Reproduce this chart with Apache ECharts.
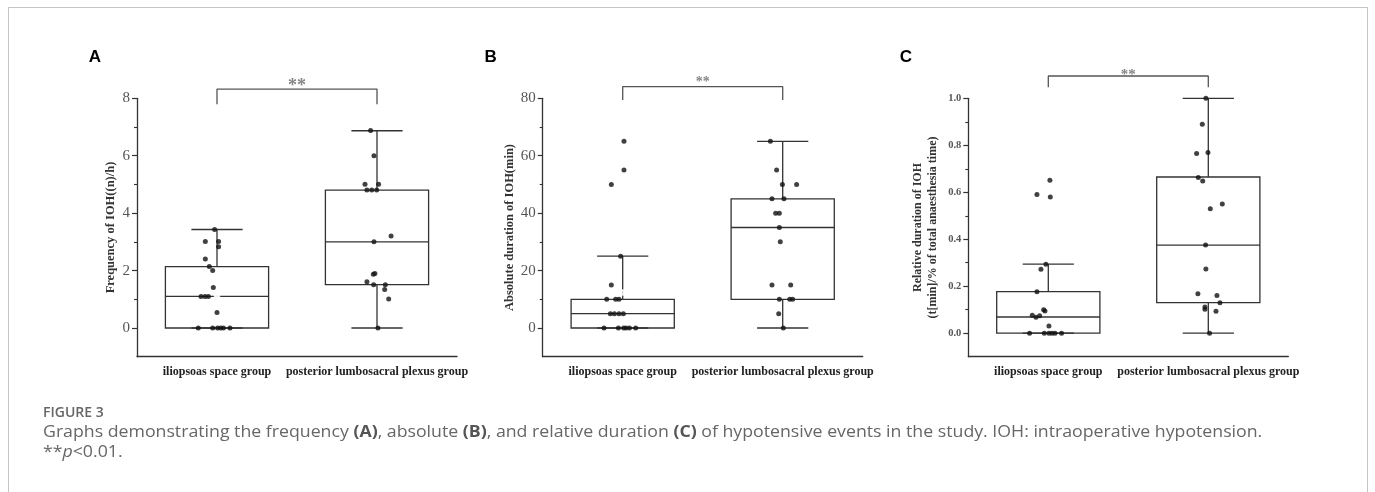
<!DOCTYPE html>
<html>
<head>
<meta charset="utf-8">
<script src="https://cdn.jsdelivr.net/npm/echarts@6/dist/echarts.min.js"></script>
<style>
  html, body { margin: 0; padding: 0; background: #fff; }
  #wrap { position: relative; width: 1375px; height: 492px; overflow: hidden; }
  #frame { position: absolute; left: 8px; top: 7px; width: 1360px; height: 520px; border: 1px solid #c4c4c4; box-sizing: border-box; }
  #chart { position: absolute; left: 0; top: 0; width: 1375px; height: 492px; }
</style>
</head>
<body>
<div id="wrap"><div id="frame"></div><div id="chart"></div></div>
<script>
// ---------- data ----------
const categories = ['iliopsoas space group', 'posterior lumbosacral plexus group'];

// Panel A: frequency of IOH
const aTicks = [0, 2, 4, 6, 8];
const aMinorTicks = [1, 3, 5, 7];
const aRange = [-1, 8];
const aBoxes = [[0, 0, 1.1, 2.14, 3.43], [0, 1.51, 3.0, 4.8, 6.87]]; // min, q1, median, q3, max
const aMeans = [1.15, 3.19];
const aG1Values = [3.43, 3.01, 3.01, 2.83, 2.40, 2.14, 2.00, 1.41, 1.10, 1.10, 1.10, 0.54, 0, 0, 0, 0, 0, 0];
const aG1Jitter = [-0.015, -0.073, 0.010, 0.010, -0.073, -0.048, -0.027, -0.023, -0.100, -0.075, -0.054, 0, -0.117, -0.027, 0.004, 0.023, 0.040, 0.081];
const aG2Values = [6.88, 6.00, 5.01, 5.01, 4.81, 4.81, 4.81, 3.20, 3.00, 1.90, 1.87, 1.61, 1.51, 1.51, 1.34, 1.01, 0];
const aG2Jitter = [-0.040, -0.019, -0.075, 0.010, -0.063, -0.033, -0.002, 0.088, -0.019, -0.013, -0.023, -0.063, -0.021, 0.052, 0.048, 0.073, 0.006];
const aBracket = [7.79, 8.32];
const aStar = 8.52;

// Panel B: absolute duration
const bTicks = [0, 20, 40, 60, 80];
const bMinorTicks = [10, 30, 50, 70];
const bRange = [-10, 80];
const bBoxes = [[0, 0, 5, 10, 25], [0, 10, 35, 45, 65]];
const bMeans = [12.4, 30.7];
const bG1Values = [65, 55, 50, 25, 15, 10, 10, 10, 5, 5, 5, 5, 0, 0, 0, 0, 0, 0];
const bG1Jitter = [0.008, 0.008, -0.071, -0.013, -0.071, -0.100, -0.044, -0.023, -0.077, -0.052, -0.023, 0.004, -0.117, -0.027, 0.006, 0.021, 0.042, 0.081];
const bG2Values = [65, 55, 50, 50, 45, 45, 40, 40, 35, 30, 15, 15, 10, 10, 10, 5, 0];
const bG2Jitter = [-0.077, -0.038, -0.002, 0.087, -0.067, 0.008, -0.044, -0.021, -0.021, -0.015, -0.067, 0.050, -0.021, 0.044, 0.062, -0.025, 0.004];
const bBracket = [79.4, 84.1];
const bStar = 86.6;

// Panel C: relative duration
const cTicks = [0, 0.2, 0.4, 0.6, 0.8, 1.0];
const cMinorTicks = [0.1, 0.3, 0.5, 0.7, 0.9];
const cRange = [-0.1, 1.0];
const cBoxes = [[0, 0, 0.069, 0.177, 0.294], [0, 0.130, 0.375, 0.665, 1.0]];
const cMeans = [0.143, 0.426];
const cG1Values = [0.651, 0.590, 0.580, 0.294, 0.272, 0.177, 0.100, 0.095, 0.076, 0.074, 0.068, 0.031, 0, 0, 0, 0, 0, 0];
const cG1Jitter = [0.010, -0.071, 0.0125, -0.015, -0.046, -0.071, -0.029, -0.021, -0.100, -0.054, -0.077, 0.004, -0.117, -0.025, 0.004, 0.023, 0.042, 0.083];
const cG2Values = [1.0, 0.890, 0.765, 0.769, 0.663, 0.648, 0.550, 0.530, 0.375, 0.273, 0.168, 0.160, 0.130, 0.112, 0.102, 0.093, 0];
const cG2Jitter = [-0.015, -0.0375, -0.073, -0.002, -0.0625, -0.035, 0.0875, 0.0125, -0.017, -0.015, -0.065, 0.054, 0.073, -0.021, -0.021, 0.048, 0.008];
const cBracket = [1.047, 1.095];
const cStar = 1.113;

const yNames = ['Frequency of IOH((n)/h)', 'Absolute duration of IOH(min)', 'Relative duration of IOH\n(t[min]/% of total anaesthesia time)'];
const panelLetters = ['A', 'B', 'C'];
const figureLabel = 'FIGURE 3';
const captionText = 'Graphs demonstrating the frequency {b|(A)}, absolute {b|(B)}, and relative duration {b|(C)} of hypotensive events in the study. IOH: intraoperative hypotension.';
const footnoteText = '**{i|p}<0.01.';

// ---------- build ----------
const SERIF = '"Liberation Serif", "Times New Roman", serif';
const INK = '#333';

const panels = [
  { ticks: aTicks, minor: aMinorTicks, range: aRange, boxes: aBoxes, means: aMeans, g1v: aG1Values, g1j: aG1Jitter, g2v: aG2Values, g2j: aG2Jitter, bracket: aBracket, star: aStar,
    left: 137, nameGap: 19, labelSize: 15, labelWeight: 'normal', nameSize: 12.5, starSize: 18, fmt: v => String(v) },
  { ticks: bTicks, minor: bMinorTicks, range: bRange, boxes: bBoxes, means: bMeans, g1v: bG1Values, g1j: bG1Jitter, g2v: bG2Values, g2j: bG2Jitter, bracket: bBracket, star: bStar,
    left: 542.7, nameGap: 24, labelSize: 15, labelWeight: 'normal', nameSize: 12.5, starSize: 14, fmt: v => String(v) },
  { ticks: cTicks, minor: cMinorTicks, range: cRange, boxes: cBoxes, means: cMeans, g1v: cG1Values, g1j: cG1Jitter, g2v: cG2Values, g2j: cG2Jitter, bracket: cBracket, star: cStar,
    left: 968.3, nameGap: 28, labelSize: 10.5, labelWeight: 'bold', nameSize: 12, starSize: 15, fmt: v => v.toFixed(1) }
];

const grid = [], xAxis = [], yAxis = [], series = [];

function renderBox(params, api) {
  const x = api.value(0);
  const mn = api.value(1), q1 = api.value(2), md = api.value(3), q3 = api.value(4), mx = api.value(5);
  const band = api.size([1, 0])[0];
  const bw = band * 0.645, cw = band * 0.32;
  const pMn = api.coord([x, mn]), pQ1 = api.coord([x, q1]), pMd = api.coord([x, md]);
  const pQ3 = api.coord([x, q3]), pMx = api.coord([x, mx]);
  const cx = pMd[0];
  const st = { stroke: INK, lineWidth: 1.3, fill: null };
  const children = [
    { type: 'line', shape: { x1: cx, y1: pQ3[1], x2: cx, y2: pMx[1] }, style: st },
    { type: 'line', shape: { x1: cx - cw / 2, y1: pMx[1], x2: cx + cw / 2, y2: pMx[1] }, style: st },
    { type: 'line', shape: { x1: cx, y1: pQ1[1], x2: cx, y2: pMn[1] }, style: st },
    { type: 'line', shape: { x1: cx - cw / 2, y1: pMn[1], x2: cx + cw / 2, y2: pMn[1] }, style: st },
    { type: 'rect', shape: { x: cx - bw / 2, y: pQ3[1], width: bw, height: pQ1[1] - pQ3[1] }, style: { stroke: INK, lineWidth: 1.3, fill: 'rgba(255,255,255,0)' } },
    { type: 'line', shape: { x1: cx - bw / 2, y1: pMd[1], x2: cx + bw / 2, y2: pMd[1] }, style: st }
  ];
  return { type: 'group', children };
}

panels.forEach((p, i) => {
  grid.push({ left: p.left, top: 98.3, width: 320, height: 258.4, containLabel: false });
  xAxis.push({
    type: 'category', gridIndex: i, data: categories, position: 'bottom',
    axisLine: { onZero: false, lineStyle: { color: INK, width: 1.3 } },
    axisTick: { alignWithLabel: true, length: 4, lineStyle: { color: INK, width: 1.2 } },
    axisLabel: { interval: 0, hideOverlap: false, margin: 9, fontFamily: SERIF, fontWeight: 'bold', fontSize: 12, color: '#222' },
    splitLine: { show: false }
  });
  xAxis.push({ type: 'value', gridIndex: i, min: -0.5, max: 1.5, show: false, position: 'bottom' });
  yAxis.push({
    type: 'value', gridIndex: i, min: p.range[0], max: p.range[1], position: 'left',
    name: yNames[i], nameLocation: 'middle', nameGap: p.nameGap,
    nameTextStyle: { fontFamily: SERIF, fontWeight: 'bold', fontSize: p.nameSize, color: INK, lineHeight: 15 },
    axisLine: { show: true, onZero: false, lineStyle: { color: INK, width: 1.3 } },
    axisTick: { show: true, length: 5, customValues: p.ticks, lineStyle: { color: INK, width: 1.2 } },
    axisLabel: { customValues: p.ticks, margin: 7, fontFamily: SERIF, fontSize: p.labelSize, fontWeight: p.labelWeight, color: '#555', formatter: p.fmt },
    splitLine: { show: false }
  });
  yAxis.push({
    type: 'value', gridIndex: i, min: p.range[0], max: p.range[1], position: 'left',
    axisLine: { show: false, onZero: false }, axisLabel: { show: false },
    axisTick: { show: true, length: 3, customValues: p.minor, lineStyle: { color: INK, width: 1.1 } },
    splitLine: { show: false }
  });
  const cx = 2 * i, vx = 2 * i + 1, my = 2 * i;
  series.push({
    type: 'custom', xAxisIndex: cx, yAxisIndex: my, renderItem: renderBox, clip: false, z: 2,
    encode: { x: 0, y: [1, 2, 3, 4, 5] },
    data: p.boxes.map((b, k) => [k].concat(b))
  });
  series.push({
    type: 'scatter', xAxisIndex: vx, yAxisIndex: my, symbol: 'emptyRect', symbolSize: 4.5, z: 3,
    itemStyle: { color: '#fff', borderColor: '#aaa', borderWidth: 1 },
    data: p.means.map((m, k) => [k, m])
  });
  series.push({
    type: 'scatter', xAxisIndex: vx, yAxisIndex: my, symbol: 'circle', symbolSize: 5, z: 4,
    itemStyle: { color: '#111' },
    data: p.g1v.map((v, k) => [0 + p.g1j[k], v]).concat(p.g2v.map((v, k) => [1 + p.g2j[k], v]))
  });
  series.push({
    type: 'line', xAxisIndex: vx, yAxisIndex: my, clip: false, symbol: 'none', z: 3,
    lineStyle: { color: '#555', width: 1.3 },
    data: [[0, p.bracket[0]], [0, p.bracket[1]], [1, p.bracket[1]], [1, p.bracket[0]]]
  });
  series.push({
    type: 'scatter', xAxisIndex: vx, yAxisIndex: my, clip: false, symbolSize: 1, z: 3,
    itemStyle: { color: 'rgba(0,0,0,0)' },
    label: { show: true, position: 'inside', formatter: '**', fontFamily: SERIF, fontWeight: 'bold', fontSize: p.starSize, color: '#666', offset: [0, 3] },
    data: [[0.5, p.star]]
  });
});

const letterX = [95, 490.7, 906];
const graphic = panelLetters.map((L, i) => ({
  type: 'text', x: letterX[i], y: 57,
  style: { text: L, font: 'bold 17px "Liberation Sans", Arial, sans-serif', fill: '#000', align: 'center', verticalAlign: 'middle' }
}));
graphic.push({
  type: 'text', x: 43, y: 413,
  style: { text: figureLabel, font: '600 14px "Open Sans", sans-serif', fill: '#666', verticalAlign: 'middle' }
});
graphic.push({
  type: 'text', x: 43, y: 432, scaleX: 1.107,
  style: {
    text: captionText,
    font: '16px "Open Sans", sans-serif', fill: '#666', verticalAlign: 'middle',
    rich: { b: { fontFamily: 'Open Sans', fontSize: 16, fontWeight: 'bold', fill: '#555' } }
  }
});
graphic.push({
  type: 'text', x: 43, y: 452, scaleX: 1.107,
  style: {
    text: footnoteText,
    font: '16px "Open Sans", sans-serif', fill: '#666', verticalAlign: 'middle',
    rich: { i: { fontFamily: 'Open Sans', fontSize: 16, fontStyle: 'italic', fill: '#666' } }
  }
});

const chart = echarts.init(document.getElementById('chart'), null, { renderer: 'canvas' });
chart.setOption({
  animation: false,
  backgroundColor: 'transparent',
  grid, xAxis, yAxis, series, graphic
});
</script>
</body>
</html>
